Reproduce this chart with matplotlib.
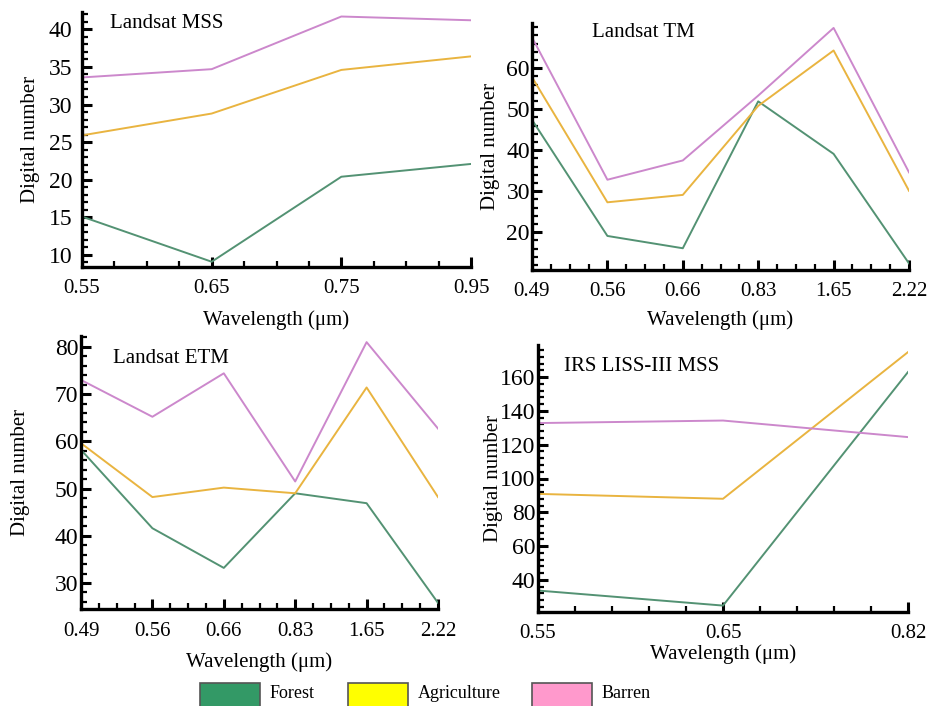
import matplotlib.pyplot as plt
from matplotlib.patches import Rectangle
from matplotlib.ticker import AutoMinorLocator

plt.rcParams['font.family'] = ['Liberation Serif', 'DejaVu Serif']

W, H = 930, 706

# band centre wavelengths (um), plotted as equally spaced categories
mss_bands = ["0.55", "0.65", "0.75", "0.95"]
tm_bands = ["0.49", "0.56", "0.66", "0.83", "1.65", "2.22"]
etm_bands = ["0.49", "0.56", "0.66", "0.83", "1.65", "2.22"]
liss_bands = ["0.55", "0.65", "0.82"]

classes = ["Forest", "Agriculture", "Barren"]

mss_forest = [15.1, 9.1, 20.4, 22.1]
mss_agri = [25.9, 28.8, 34.6, 36.4]
mss_barren = [33.6, 34.7, 41.7, 41.2]

tm_forest = [47.4, 19.1, 16.1, 51.9, 39.1, 12.4]
tm_agri = [57.8, 27.3, 29.1, 50.8, 64.3, 30.1]
tm_barren = [67.5, 32.8, 37.5, 53.3, 69.8, 34.6]

etm_forest = [58.2, 41.6, 33.2, 49.0, 46.9, 25.8]
etm_agri = [59.6, 48.2, 50.2, 49.0, 71.4, 48.2]
etm_barren = [73.0, 65.2, 74.4, 51.5, 81.0, 62.7]

liss_forest = [33.7, 24.8, 163.0]
liss_agri = [90.9, 88.0, 174.8]
liss_barren = [132.8, 134.3, 124.5]

# y tick values shown on each panel
mss_yticks = [10, 15, 20, 25, 30, 35, 40]
tm_yticks = [20, 30, 40, 50, 60]
etm_yticks = [30, 40, 50, 60, 70, 80]
liss_yticks = [40, 60, 80, 100, 120, 140, 160]

line_colors = ["#539273", "#e9b440", "#cc88cc"]
box_colors = ["#339966", "#ffff00", "#ff99cc"]

fig = plt.figure(figsize=(W / 100, H / 100), dpi=100)


def panel(box, bands, series, title, title_xy, ylim, yticks, xminor, yminor,
          ypad, ylab_x, xlab_y):
    # box = (left, top, right, bottom) in pixels
    l, t, r, b = box
    ax = fig.add_axes([l / W, 1 - b / H, (r - l) / W, (b - t) / H])
    x = list(range(len(bands)))
    for vals, c in zip(series, line_colors):
        ax.plot(x, vals, color=c, lw=1.4)
    ax.set_xlim(0, len(bands) - 1)
    ax.set_ylim(*ylim)
    ax.set_xticks(x)
    ax.set_xticklabels(bands)
    ax.set_yticks(yticks)
    ax.xaxis.set_minor_locator(AutoMinorLocator(xminor))
    ax.yaxis.set_minor_locator(AutoMinorLocator(yminor))
    for s in ["top", "right"]:
        ax.spines[s].set_visible(False)
    for s in ["left", "bottom"]:
        ax.spines[s].set_linewidth(2.4)
    ax.tick_params(which="major", direction="in", length=7, width=2.2)
    ax.tick_params(which="minor", direction="in", length=4, width=1.6)
    ax.tick_params(axis="x", which="major", labelsize=15, pad=9)
    ax.tick_params(axis="y", which="major", labelsize=17, pad=ypad)
    ax.set_xlabel("Wavelength (μm)", fontsize=15, va="center")
    ax.set_ylabel("Digital number", fontsize=15, va="center")
    ax.xaxis.set_label_coords(0.5, (b - xlab_y) / (b - t))
    ax.yaxis.set_label_coords((ylab_x - l) / (r - l), 0.5)
    ax.text(title_xy[0], title_xy[1], title, transform=ax.transAxes,
            fontsize=15, va="center", ha="left")
    return ax


panel((82, 12, 471, 267), mss_bands,
      [mss_forest, mss_agri, mss_barren], "Landsat MSS", (0.072, 0.953),
      (8.4, 42.3), mss_yticks, 4, 5, 7, 31, 320)
panel((532, 23, 909, 270), tm_bands,
      [tm_forest, tm_agri, tm_barren], "Landsat TM", (0.159, 0.96),
      (10.8, 71), tm_yticks, 4, 5, 1.5, 491, 320)
panel((81, 336, 438, 609), etm_bands,
      [etm_forest, etm_agri, etm_barren], "Landsat ETM", (0.09, 0.919),
      (24.5, 82.3), etm_yticks, 4, 5, 2, 21, 662)
panel((538, 345, 908, 612), liss_bands,
      [liss_forest, liss_agri, liss_barren], "IRS LISS-III MSS", (0.07, 0.918),
      (21, 179), liss_yticks, 5, 5, 2, 493, 654)

# legend boxes along the bottom edge
box_x = [200, 348, 532]
for bx, c, name in zip(box_x, box_colors, classes):
    fig.patches.append(Rectangle((bx / W, -0.01), 60 / W, 0.043,
                                 transform=fig.transFigure, facecolor=c,
                                 edgecolor="#555555", lw=1.2))
    fig.text((bx + 70) / W, 0.017, name, fontsize=13, va="center", ha="left")

fig.savefig("out.png", dpi=100)
